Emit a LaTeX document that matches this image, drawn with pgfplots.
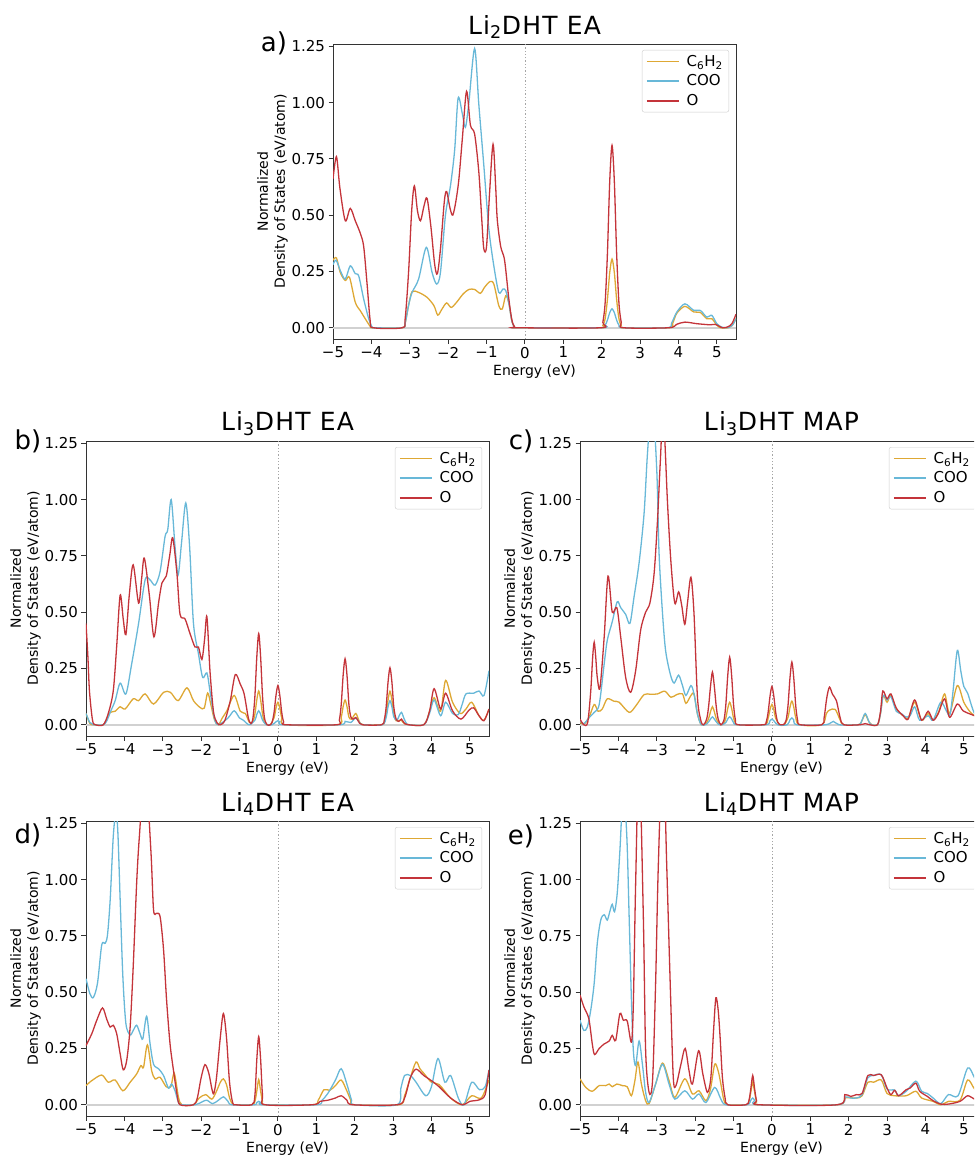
\documentclass[border=0pt]{standalone}
\usepackage{fontspec}
\setmainfont{DejaVu Sans}
\usepackage{pgfplots}
\pgfplotsset{compat=1.18}

\definecolor{cch}{RGB}{222,168,52}
\definecolor{ccoo}{RGB}{104,184,216}
\definecolor{co}{RGB}{196,52,58}

\pgfplotsset{
  dos/.style={
    scale only axis, width=403pt, height=295pt,
    xmin=-5, xmax=5.5, ymin=-0.05, ymax=1.26,
    xtick={-5,-4,-3,-2,-1,0,1,2,3,4,5},
    xticklabels={−5,−4,−3,−2,−1,0,1,2,3,4,5},
    ytick={0,0.25,0.5,0.75,1,1.25},
    yticklabels={0.00,0.25,0.50,0.75,1.00,1.25},
    tick pos=left, tick align=outside, major tick length=4.5pt,
    axis line style={black!80, line width=0.9pt},
    every tick/.style={black!80, line width=0.9pt},
    ticklabel style={font=\fontsize{15}{17}\selectfont},
    xlabel={Energy (eV)},
    ylabel={Normalized\\Density of States (eV/atom)},
    label style={font=\fontsize{14}{17}\selectfont},
    ylabel style={align=center}, ylabel shift=-3pt,
    title style={font=\fontsize{25}{28}\selectfont\addfontfeature{LetterSpace=5}, yshift=-4pt},
    legend style={at={(1,1)}, anchor=north east, xshift=-7pt, yshift=-6pt,
      draw=black!20, rounded corners=2pt, font=\fontsize{15}{17}\selectfont,
      row sep=3pt, inner xsep=4pt, inner ysep=3pt,
      /tikz/every odd column/.append style={column sep=5pt}},
    legend cell align=left,
    legend image code/.code={\draw[#1, line width=1.5pt] (0pt,0pt) -- (32pt,0pt);},
    every axis plot/.append style={line width=1.3pt, smooth, tension=0.5},
  },
  zeroline/.style={forget plot, sharp plot, black!18, line width=2pt},
  fermi/.style={forget plot, sharp plot, gray!70, dotted, line width=0.6pt},
}

\begin{document}
\begin{tikzpicture}
\useasboundingbox (0,0) rectangle (974pt,-1155pt);
\clip (0,0) rectangle (974pt,-1155pt);

% a) Li2DHT EA
\begin{axis}[dos, at={(333pt,-44pt)}, anchor=north west, title={Li\textsubscript{2}DHT EA}]
\addplot[zeroline] coordinates {(-5,0) (5.5,0)};
\addplot[fermi] coordinates {(0,-0.05) (0,1.26)};
\addplot[cch] coordinates {(-5,0.3) (-4.91,0.31) (-4.81,0.245) (-4.68,0.21) (-4.57,0.224) (-4.42,0.113) (-4.29,0.076) (-4.16,0.04) (-4.03,0.006) (-3.95,0) (-3.2,0) (-3.12,0.02) (-3.03,0.1) (-2.94,0.16) (-2.77,0.157) (-2.55,0.135) (-2.37,0.098) (-2.27,0.056) (-2.16,0.083) (-2.04,0.11) (-1.92,0.09) (-1.78,0.113) (-1.61,0.15) (-1.46,0.17) (-1.31,0.17) (-1.16,0.153) (-1.05,0.18) (-0.91,0.205) (-0.81,0.194) (-0.68,0.098) (-0.59,0.083) (-0.5,0.142) (-0.42,0.11) (-0.34,0.03) (-0.27,0.003) (-0.2,0) (1.97,0) (2.03,0.01) (2.09,0.04) (2.15,0.125) (2.21,0.245) (2.27,0.305) (2.33,0.245) (2.39,0.125) (2.45,0.04) (2.51,0.01) (2.57,0) (3.75,0) (3.85,0.02) (3.96,0.065) (4.17,0.095) (4.4,0.07) (4.57,0.068) (4.74,0.04) (4.87,0.04) (5.0,0.012) (5.1,0) (5.3,0) (5.4,0.01) (5.5,0.04)};
\addplot[ccoo] coordinates {(-5,0.28) (-4.92,0.3) (-4.8,0.25) (-4.68,0.216) (-4.55,0.275) (-4.42,0.24) (-4.33,0.23) (-4.2,0.127) (-4.07,0.04) (-3.98,0.003) (-3.9,0) (-3.2,0) (-3.12,0.02) (-3.03,0.1) (-2.94,0.157) (-2.77,0.216) (-2.57,0.357) (-2.42,0.246) (-2.3,0.194) (-2.2,0.246) (-2.07,0.5) (-1.94,0.63) (-1.83,0.79) (-1.74,1.02) (-1.63,0.95) (-1.55,0.89) (-1.46,1.0) (-1.31,1.24) (-1.2,0.99) (-1.07,0.72) (-0.94,0.44) (-0.81,0.275) (-0.68,0.157) (-0.57,0.172) (-0.5,0.165) (-0.42,0.11) (-0.34,0.03) (-0.27,0.003) (-0.2,0) (1.97,0) (2.09,0.012) (2.15,0.034) (2.21,0.067) (2.27,0.084) (2.33,0.067) (2.39,0.034) (2.45,0.012) (2.57,0) (3.7,0) (3.82,0.02) (3.96,0.07) (4.17,0.106) (4.4,0.077) (4.57,0.077) (4.74,0.047) (4.87,0.055) (5.0,0.018) (5.13,0.003) (5.26,0) (5.4,0.01) (5.5,0.04)};
\addplot[co] coordinates {(-5,0.66) (-4.91,0.76) (-4.82,0.62) (-4.68,0.475) (-4.55,0.53) (-4.42,0.475) (-4.29,0.42) (-4.2,0.36) (-4.11,0.19) (-4.03,0.03) (-3.95,0) (-3.2,0) (-3.12,0.04) (-3.03,0.25) (-2.95,0.52) (-2.88,0.63) (-2.8,0.52) (-2.72,0.475) (-2.63,0.54) (-2.55,0.575) (-2.45,0.45) (-2.35,0.28) (-2.28,0.24) (-2.2,0.35) (-2.1,0.56) (-2.04,0.605) (-1.95,0.53) (-1.88,0.5) (-1.8,0.56) (-1.72,0.66) (-1.63,0.84) (-1.52,1.05) (-1.42,0.9) (-1.31,0.86) (-1.2,0.69) (-1.12,0.47) (-1.07,0.35) (-1.0,0.36) (-0.92,0.6) (-0.83,0.815) (-0.76,0.62) (-0.72,0.48) (-0.63,0.36) (-0.53,0.3) (-0.42,0.13) (-0.34,0.035) (-0.27,0.004) (-0.2,0) (1.97,0) (2.03,0.024) (2.09,0.11) (2.15,0.33) (2.21,0.65) (2.27,0.81) (2.33,0.65) (2.39,0.33) (2.45,0.11) (2.51,0.024) (2.57,0) (3.75,0) (3.95,0.015) (4.17,0.025) (4.48,0.018) (4.83,0.013) (4.96,0.015) (5.15,0) (5.3,0.005) (5.4,0.02) (5.5,0.06)};
\legend{C\textsubscript{6}H\textsubscript{2}, COO, O}
\end{axis}

% b) Li3DHT EA
\begin{axis}[dos, at={(86pt,-441pt)}, anchor=north west, title={Li\textsubscript{3}DHT EA}]
\addplot[zeroline] coordinates {(-5,0) (5.5,0)};
\addplot[fermi] coordinates {(0,-0.05) (0,1.26)};
\addplot[cch] coordinates {(-5,0.05) (-4.9,0.006) (-4.8,0) (-4.55,0) (-4.45,0.03) (-4.37,0.055) (-4.24,0.06) (-4.11,0.08) (-3.98,0.07) (-3.77,0.115) (-3.63,0.107) (-3.46,0.137) (-3.24,0.092) (-2.98,0.144) (-2.8,0.144) (-2.6,0.107) (-2.37,0.164) (-2.2,0.107) (-2.03,0.077) (-1.92,0.074) (-1.83,0.141) (-1.75,0.092) (-1.65,0.02) (-1.55,0) (-1.45,0.03) (-1.33,0.062) (-1.14,0.13) (-0.98,0.06) (-0.85,0.05) (-0.74,0.01) (-0.65,0.015) (-0.6,0.047) (-0.55,0.11) (-0.5,0.15) (-0.45,0.11) (-0.4,0.047) (-0.35,0.01) (-0.28,0) (-0.2,0) (-0.1,0.031) (-0.05,0.074) (0,0.1) (0.05,0.074) (0.1,0.031) (0.2,0) (1.55,0) (1.65,0.034) (1.7,0.081) (1.75,0.11) (1.8,0.081) (1.85,0.034) (1.92,0.025) (2.03,0.05) (2.12,0.015) (2.22,0) (2.7,0) (2.77,0.01) (2.82,0.046) (2.87,0.11) (2.92,0.149) (2.97,0.11) (3.02,0.046) (3.08,0.018) (3.22,0.02) (3.32,0.003) (3.8,0) (3.95,0.06) (4.07,0.12) (4.24,0.06) (4.37,0.197) (4.55,0.1) (4.75,0.05) (4.9,0.07) (5.05,0.1) (5.24,0.04) (5.37,0.02) (5.5,0.07)};
\addplot[ccoo] coordinates {(-5,0.05) (-4.9,0.01) (-4.8,0) (-4.55,0) (-4.45,0.02) (-4.37,0.055) (-4.24,0.107) (-4.11,0.185) (-3.96,0.137) (-3.81,0.27) (-3.63,0.45) (-3.46,0.643) (-3.33,0.643) (-3.2,0.62) (-3.07,0.68) (-2.94,0.836) (-2.87,0.866) (-2.78,1.0) (-2.68,0.79) (-2.6,0.665) (-2.51,0.81) (-2.4,0.985) (-2.3,0.79) (-2.2,0.45) (-2.07,0.315) (-1.96,0.21) (-1.85,0.23) (-1.77,0.15) (-1.65,0.025) (-1.55,0) (-1.3,0.03) (-1.14,0.062) (-1.0,0.03) (-0.9,0.02) (-0.75,0) (-0.6,0.02) (-0.55,0.046) (-0.5,0.062) (-0.45,0.046) (-0.4,0.02) (-0.3,0) (-0.15,0) (-0.05,0.013) (0,0.018) (0.05,0.013) (0.15,0) (1.6,0) (1.75,0.015) (1.9,0.01) (2.03,0.03) (2.15,0.005) (2.25,0) (2.72,0) (2.82,0.033) (2.87,0.08) (2.92,0.107) (2.97,0.08) (3.02,0.035) (3.1,0.02) (3.16,0.04) (3.22,0.055) (3.28,0.03) (3.35,0.005) (3.42,0) (3.8,0) (3.95,0.05) (4.07,0.11) (4.24,0.04) (4.37,0.1) (4.55,0.05) (4.7,0.045) (4.8,0.09) (4.9,0.137) (5.1,0.14) (5.24,0.15) (5.37,0.13) (5.5,0.24)};
\addplot[co] coordinates {(-5,0.45) (-4.95,0.3) (-4.91,0.15) (-4.83,0.02) (-4.75,0) (-4.55,0) (-4.42,0.05) (-4.29,0.15) (-4.2,0.35) (-4.11,0.576) (-4.03,0.47) (-3.96,0.4) (-3.87,0.58) (-3.77,0.71) (-3.63,0.54) (-3.55,0.65) (-3.48,0.74) (-3.35,0.576) (-3.23,0.39) (-3.11,0.54) (-3.02,0.63) (-2.91,0.66) (-2.82,0.75) (-2.74,0.83) (-2.63,0.67) (-2.55,0.49) (-2.42,0.47) (-2.29,0.405) (-2.16,0.345) (-2.07,0.345) (-1.98,0.29) (-1.91,0.38) (-1.85,0.48) (-1.77,0.24) (-1.68,0.06) (-1.59,0.01) (-1.5,0) (-1.38,0.02) (-1.24,0.107) (-1.11,0.223) (-0.98,0.18) (-0.88,0.137) (-0.77,0.03) (-0.7,0.005) (-0.65,0.03) (-0.6,0.125) (-0.55,0.3) (-0.5,0.405) (-0.45,0.3) (-0.4,0.125) (-0.35,0.03) (-0.28,0) (-0.2,0) (-0.15,0.012) (-0.1,0.054) (-0.05,0.13) (0,0.174) (0.05,0.13) (0.1,0.054) (0.15,0.012) (0.22,0) (1.53,0) (1.6,0.02) (1.65,0.09) (1.7,0.22) (1.75,0.293) (1.8,0.22) (1.85,0.09) (1.9,0.035) (1.96,0.025) (2.03,0.032) (2.1,0.015) (2.2,0) (2.7,0) (2.77,0.02) (2.82,0.078) (2.87,0.19) (2.92,0.253) (2.97,0.19) (3.02,0.078) (3.08,0.025) (3.15,0.015) (3.22,0.025) (3.3,0.005) (3.4,0) (3.8,0) (3.95,0.06) (4.07,0.16) (4.24,0.07) (4.37,0.14) (4.55,0.062) (4.77,0.025) (4.98,0.065) (5.1,0.075) (5.24,0.04) (5.37,0.018) (5.5,0.07)};
\legend{C\textsubscript{6}H\textsubscript{2}, COO, O}
\end{axis}

% c) Li3DHT MAP
\begin{axis}[dos, at={(580pt,-441pt)}, anchor=north west, title={Li\textsubscript{3}DHT MAP}]
\addplot[zeroline] coordinates {(-5,0) (5.5,0)};
\addplot[fermi] coordinates {(0,-0.05) (0,1.26)};
\addplot[cch] coordinates {(-5,0.01) (-4.9,0.003) (-4.77,0.03) (-4.63,0.09) (-4.53,0.06) (-4.42,0.07) (-4.29,0.115) (-4.11,0.104) (-3.98,0.1) (-3.72,0.055) (-3.55,0.083) (-3.33,0.134) (-3.16,0.135) (-2.98,0.137) (-2.79,0.149) (-2.63,0.122) (-2.48,0.134) (-2.33,0.137) (-2.24,0.095) (-2.11,0.13) (-2.03,0.137) (-1.94,0.048) (-1.84,0) (-1.72,0.005) (-1.65,0.027) (-1.6,0.058) (-1.55,0.08) (-1.5,0.058) (-1.45,0.027) (-1.38,0.005) (-1.3,0) (-1.25,0.007) (-1.2,0.03) (-1.15,0.073) (-1.1,0.1) (-1.05,0.073) (-1.0,0.03) (-0.95,0.007) (-0.88,0) (-0.2,0) (-0.1,0.028) (-0.05,0.067) (0,0.09) (0.05,0.067) (0.1,0.028) (0.2,0) (0.32,0) (0.42,0.033) (0.47,0.078) (0.52,0.105) (0.57,0.078) (0.62,0.033) (0.72,0) (1.3,0) (1.42,0.05) (1.5,0.065) (1.65,0.068) (1.78,0.02) (1.87,0) (2.25,0) (2.33,0.012) (2.43,0.045) (2.53,0.012) (2.6,0) (2.75,0) (2.83,0.05) (2.9,0.13) (3.0,0.1) (3.1,0.13) (3.24,0.07) (3.42,0.04) (3.55,0.03) (3.72,0.1) (3.9,0.02) (4.07,0.05) (4.2,0.02) (4.35,0.06) (4.5,0.137) (4.63,0.05) (4.83,0.174) (5.0,0.1) (5.15,0.06) (5.28,0.04) (5.5,0.03)};
\addplot[ccoo] coordinates {(-5,0.018) (-4.9,0.005) (-4.77,0.03) (-4.63,0.055) (-4.5,0.09) (-4.37,0.27) (-4.29,0.375) (-4.16,0.457) (-4.03,0.546) (-3.94,0.52) (-3.81,0.49) (-3.7,0.45) (-3.59,0.57) (-3.46,0.72) (-3.33,0.94) (-3.24,1.21) (-3.12,1.45) (-3.0,1.13) (-2.94,0.76) (-2.85,0.494) (-2.77,0.33) (-2.65,0.226) (-2.55,0.185) (-2.43,0.22) (-2.33,0.174) (-2.24,0.13) (-2.11,0.174) (-2.03,0.137) (-1.94,0.048) (-1.84,0) (-1.7,0.003) (-1.6,0.025) (-1.55,0.035) (-1.5,0.025) (-1.4,0.003) (-1.3,0) (-1.2,0.01) (-1.15,0.026) (-1.1,0.035) (-1.05,0.026) (-1.0,0.01) (-0.9,0) (-0.15,0) (-0.05,0.018) (0,0.025) (0.05,0.018) (0.15,0) (0.4,0) (0.47,0.022) (0.52,0.03) (0.57,0.022) (0.65,0) (1.4,0) (1.6,0.015) (1.75,0) (2.25,0) (2.33,0.013) (2.43,0.05) (2.53,0.013) (2.6,0) (2.75,0) (2.83,0.05) (2.9,0.13) (3.0,0.11) (3.1,0.125) (3.24,0.06) (3.37,0.05) (3.48,0.035) (3.6,0.04) (3.72,0.08) (3.85,0.02) (4.07,0.04) (4.2,0.02) (4.4,0.1) (4.55,0.06) (4.64,0.045) (4.72,0.15) (4.83,0.33) (4.92,0.24) (5.0,0.17) (5.1,0.14) (5.28,0.05) (5.5,0.03)};
\addplot[co] coordinates {(-5,0.025) (-4.9,0) (-4.8,0.01) (-4.72,0.15) (-4.67,0.3) (-4.63,0.367) (-4.59,0.3) (-4.55,0.21) (-4.48,0.164) (-4.37,0.39) (-4.27,0.66) (-4.16,0.5) (-4.04,0.52) (-3.94,0.39) (-3.81,0.21) (-3.68,0.144) (-3.55,0.24) (-3.42,0.42) (-3.29,0.5) (-3.18,0.54) (-3.07,0.67) (-2.98,0.91) (-2.91,1.16) (-2.83,1.38) (-2.72,0.985) (-2.63,0.72) (-2.53,0.54) (-2.43,0.59) (-2.35,0.53) (-2.27,0.446) (-2.2,0.54) (-2.11,0.655) (-2.03,0.494) (-1.94,0.122) (-1.85,0.018) (-1.78,0) (-1.7,0.025) (-1.65,0.08) (-1.6,0.17) (-1.55,0.234) (-1.5,0.17) (-1.45,0.08) (-1.4,0.025) (-1.33,0) (-1.25,0.02) (-1.2,0.09) (-1.15,0.22) (-1.1,0.3) (-1.05,0.22) (-1.0,0.09) (-0.95,0.02) (-0.88,0) (-0.22,0) (-0.15,0.012) (-0.1,0.053) (-0.05,0.126) (0,0.17) (0.05,0.126) (0.1,0.053) (0.15,0.012) (0.22,0) (0.3,0) (0.37,0.02) (0.42,0.086) (0.47,0.206) (0.52,0.278) (0.57,0.206) (0.62,0.086) (0.67,0.02) (0.74,0) (1.3,0) (1.36,0.03) (1.43,0.12) (1.5,0.167) (1.58,0.135) (1.68,0.107) (1.78,0.03) (1.87,0) (2.3,0) (2.43,0.005) (2.55,0) (2.75,0) (2.83,0.06) (2.89,0.15) (3.0,0.115) (3.1,0.137) (3.24,0.074) (3.42,0.04) (3.55,0.025) (3.72,0.11) (3.9,0.02) (4.07,0.06) (4.2,0.02) (4.33,0.048) (4.5,0.115) (4.63,0.033) (4.83,0.092) (4.98,0.062) (5.16,0.048) (5.28,0.04) (5.4,0.03) (5.5,0.03)};
\legend{C\textsubscript{6}H\textsubscript{2}, COO, O}
\end{axis}

% d) Li4DHT EA
\begin{axis}[dos, at={(86pt,-821pt)}, anchor=north west, title={Li\textsubscript{4}DHT EA}]
\addplot[zeroline] coordinates {(-5,0) (5.5,0)};
\addplot[fermi] coordinates {(0,-0.05) (0,1.26)};
\addplot[cch] coordinates {(-5,0.085) (-4.85,0.107) (-4.59,0.132) (-4.42,0.1) (-4.24,0.11) (-4.04,0.062) (-3.85,0.1) (-3.68,0.137) (-3.57,0.174) (-3.5,0.167) (-3.4,0.266) (-3.29,0.152) (-3.2,0.115) (-3.07,0.122) (-2.91,0.08) (-2.79,0.08) (-2.7,0.14) (-2.59,0.033) (-2.5,0) (-2.2,0) (-2.05,0.03) (-1.88,0.045) (-1.72,0.025) (-1.6,0.06) (-1.5,0.1) (-1.42,0.115) (-1.34,0.09) (-1.26,0.03) (-1.18,0.003) (-1.1,0) (-0.68,0) (-0.6,0.015) (-0.55,0.06) (-0.5,0.112) (-0.45,0.06) (-0.4,0.015) (-0.33,0) (0.9,0) (1.05,0.02) (1.2,0.067) (1.35,0.064) (1.5,0.085) (1.65,0.11) (1.8,0.06) (1.9,0.02) (2.0,0) (3.15,0) (3.3,0.04) (3.45,0.12) (3.6,0.19) (3.7,0.16) (3.8,0.14) (4.0,0.1) (4.2,0.09) (4.5,0.03) (4.8,0) (5.05,0.04) (5.3,0.03) (5.5,0.11)};
\addplot[ccoo] coordinates {(-5,0.56) (-4.9,0.494) (-4.81,0.476) (-4.7,0.54) (-4.59,0.71) (-4.5,0.717) (-4.44,0.754) (-4.37,0.91) (-4.29,1.19) (-4.22,1.3) (-4.17,1.21) (-4.11,0.91) (-4.04,0.57) (-3.96,0.36) (-3.85,0.31) (-3.77,0.33) (-3.68,0.353) (-3.59,0.315) (-3.52,0.293) (-3.42,0.393) (-3.33,0.27) (-3.24,0.18) (-3.11,0.16) (-2.98,0.13) (-2.85,0.074) (-2.77,0.092) (-2.68,0.062) (-2.59,0.01) (-2.5,0) (-2.15,0) (-1.95,0.015) (-1.85,0.02) (-1.7,0.005) (-1.55,0.02) (-1.42,0.035) (-1.3,0.015) (-1.2,0) (-0.62,0) (-0.55,0.01) (-0.5,0.015) (-0.45,0.01) (-0.38,0) (1.0,0) (1.15,0.02) (1.3,0.05) (1.5,0.11) (1.65,0.16) (1.8,0.09) (1.92,0.02) (2.0,0) (3.1,0) (3.2,0.07) (3.3,0.13) (3.45,0.13) (3.6,0.1) (3.85,0.04) (4.0,0.08) (4.17,0.205) (4.35,0.1) (4.5,0.13) (4.7,0.03) (4.85,0) (5.05,0.1) (5.25,0.067) (5.4,0.08) (5.5,0.155)};
\addplot[co] coordinates {(-5,0.263) (-4.85,0.315) (-4.72,0.375) (-4.57,0.43) (-4.46,0.38) (-4.37,0.345) (-4.29,0.353) (-4.2,0.315) (-4.11,0.226) (-4.03,0.155) (-3.94,0.196) (-3.85,0.345) (-3.77,0.613) (-3.68,0.985) (-3.61,1.19) (-3.46,1.5) (-3.31,1.13) (-3.24,0.866) (-3.16,0.85) (-3.07,0.836) (-2.98,0.69) (-2.9,0.464) (-2.81,0.27) (-2.72,0.152) (-2.63,0.048) (-2.55,0) (-2.2,0) (-2.1,0.03) (-2.0,0.12) (-1.9,0.178) (-1.8,0.14) (-1.72,0.07) (-1.67,0.05) (-1.6,0.12) (-1.5,0.3) (-1.42,0.405) (-1.34,0.3) (-1.26,0.1) (-1.18,0.01) (-1.1,0) (-0.68,0) (-0.6,0.04) (-0.55,0.2) (-0.5,0.303) (-0.45,0.2) (-0.4,0.04) (-0.33,0) (0.9,0) (1.1,0.015) (1.3,0.02) (1.5,0.03) (1.65,0.04) (1.8,0.02) (1.95,0) (3.1,0) (3.3,0.03) (3.45,0.12) (3.6,0.158) (3.8,0.13) (4.0,0.107) (4.2,0.08) (4.5,0.03) (4.8,0) (5.0,0.015) (5.25,0.022) (5.4,0.045) (5.5,0.155)};
\legend{C\textsubscript{6}H\textsubscript{2}, COO, O}
\end{axis}

% e) Li4DHT MAP
\begin{axis}[dos, at={(580pt,-821pt)}, anchor=north west, title={Li\textsubscript{4}DHT MAP}]
\addplot[zeroline] coordinates {(-5,0) (5.5,0)};
\addplot[fermi] coordinates {(0,-0.05) (0,1.26)};
\addplot[cch] coordinates {(-5,0.115) (-4.85,0.077) (-4.68,0.06) (-4.5,0.085) (-4.33,0.085) (-4.24,0.092) (-4.16,0.08) (-4.04,0.092) (-3.9,0.085) (-3.77,0.08) (-3.66,0.04) (-3.57,0.107) (-3.49,0.19) (-3.4,0.092) (-3.29,0.018) (-3.2,0.005) (-3.03,0.092) (-2.85,0.185) (-2.68,0.107) (-2.53,0.033) (-2.27,0.115) (-2.07,0.048) (-1.9,0.062) (-1.72,0.018) (-1.6,0.07) (-1.49,0.18) (-1.4,0.15) (-1.33,0.092) (-1.25,0.02) (-1.15,0) (-0.68,0) (-0.6,0.013) (-0.55,0.055) (-0.5,0.1) (-0.45,0.055) (-0.4,0.013) (-0.33,0) (1.7,0) (1.9,0.03) (2.2,0.03) (2.35,0.04) (2.5,0.1) (2.65,0.1) (2.85,0.11) (3.0,0.05) (3.2,0.04) (3.5,0.04) (3.75,0.06) (3.9,0.03) (4.2,0.015) (4.4,0) (4.6,0.015) (4.9,0.02) (5.1,0.11) (5.28,0.07) (5.5,0.04)};
\addplot[ccoo] coordinates {(-5,0.375) (-4.9,0.33) (-4.81,0.345) (-4.72,0.42) (-4.63,0.54) (-4.55,0.717) (-4.46,0.82) (-4.37,0.844) (-4.29,0.82) (-4.22,0.86) (-4.16,0.89) (-4.1,0.857) (-4.03,0.94) (-3.96,1.13) (-3.87,1.4) (-3.78,1.19) (-3.72,0.836) (-3.66,0.464) (-3.61,0.24) (-3.55,0.174) (-3.46,0.283) (-3.37,0.174) (-3.29,0.055) (-3.2,0.01) (-3.03,0.092) (-2.85,0.18) (-2.68,0.092) (-2.53,0.025) (-2.27,0.062) (-2.07,0.025) (-1.9,0.048) (-1.72,0.01) (-1.49,0.077) (-1.33,0.025) (-1.2,0) (-0.65,0) (-0.55,0.02) (-0.5,0.03) (-0.45,0.02) (-0.35,0) (1.7,0) (1.9,0.035) (2.05,0.03) (2.2,0.03) (2.35,0.045) (2.5,0.12) (2.65,0.13) (2.85,0.133) (3.0,0.07) (3.2,0.065) (3.3,0.04) (3.5,0.06) (3.75,0.105) (3.9,0.06) (4.05,0.05) (4.2,0.03) (4.4,0.005) (4.6,0.045) (4.85,0.04) (5.1,0.163) (5.28,0.12) (5.5,0.05)};
\addplot[co] coordinates {(-5,0.487) (-4.9,0.435) (-4.77,0.382) (-4.68,0.27) (-4.62,0.223) (-4.5,0.25) (-4.37,0.27) (-4.24,0.283) (-4.16,0.308) (-4.07,0.286) (-3.96,0.405) (-3.87,0.375) (-3.77,0.372) (-3.66,0.278) (-3.61,0.45) (-3.55,0.985) (-3.46,1.55) (-3.35,0.836) (-3.29,0.24) (-3.2,0.055) (-3.11,0.107) (-3.03,0.54) (-2.96,1.06) (-2.84,1.6) (-2.74,1.06) (-2.65,0.54) (-2.57,0.122) (-2.5,0.085) (-2.37,0.18) (-2.26,0.25) (-2.16,0.152) (-2.07,0.092) (-1.91,0.24) (-1.8,0.137) (-1.68,0.055) (-1.59,0.122) (-1.52,0.33) (-1.46,0.475) (-1.4,0.42) (-1.35,0.3) (-1.29,0.122) (-1.22,0.03) (-1.15,0) (-0.68,0) (-0.6,0.018) (-0.55,0.07) (-0.5,0.13) (-0.45,0.07) (-0.4,0.018) (-0.33,0) (1.7,0) (1.9,0.045) (2.05,0.037) (2.2,0.045) (2.35,0.05) (2.5,0.13) (2.65,0.13) (2.85,0.133) (3.0,0.074) (3.1,0.045) (3.2,0.064) (3.3,0.04) (3.5,0.067) (3.6,0.074) (3.75,0.096) (3.85,0.06) (4.05,0.037) (4.2,0.018) (4.4,0.003) (4.6,0.003) (4.9,0.015) (5.1,0.04) (5.28,0.025) (5.5,0.02)};
\legend{C\textsubscript{6}H\textsubscript{2}, COO, O}
\end{axis}

\node[font=\fontsize{26}{30}\selectfont] at (274pt,-43pt) {a)};
\node[font=\fontsize{26}{30}\selectfont] at (28pt,-441pt) {b)};
\node[font=\fontsize{26}{30}\selectfont] at (521pt,-441pt) {c)};
\node[font=\fontsize{26}{30}\selectfont] at (28pt,-835pt) {d)};
\node[font=\fontsize{26}{30}\selectfont] at (521pt,-836pt) {e)};
\end{tikzpicture}
\end{document}
